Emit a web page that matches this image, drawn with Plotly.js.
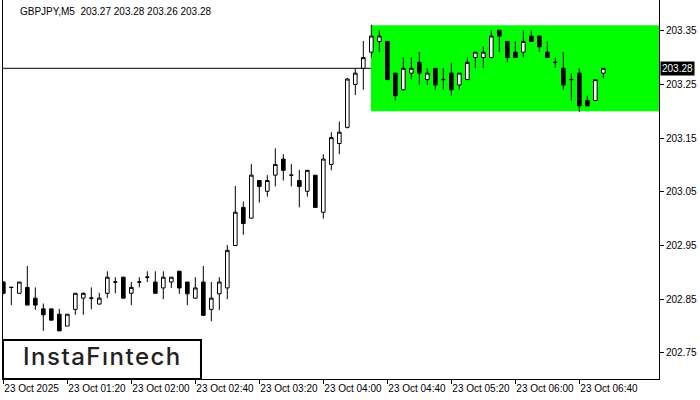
<!DOCTYPE html>
<html>
<head>
<meta charset="utf-8">
<script src="https://cdn.plot.ly/plotly-3.0.1.min.js"></script>
<style>html,body{margin:0;padding:0;background:#fff;}#chart{width:700px;height:400px;}</style>
</head>
<body>
<div id="chart"></div>
<script>
// GBPJPY M5, 23 Oct 2025, 76 bars from 00:40 to 06:55
const openP  = [202.882,202.872,202.861,202.872,202.852,202.832,202.832,202.822,202.800,202.831,
                202.852,202.852,202.841,202.861,202.882,202.891,202.861,202.882,202.891,202.882,
                202.871,202.882,202.902,202.882,202.852,202.882,202.831,202.860,202.871,202.950,
                203.021,203.001,203.071,203.051,203.081,203.111,203.081,203.071,203.051,203.081,
                203.012,203.101,203.140,203.170,203.250,203.280,203.310,203.330,203.330,203.271,
                203.240,203.271,203.291,203.259,203.280,203.259,203.271,203.249,203.259,203.300,
                203.300,203.300,203.351,203.330,203.310,203.310,203.340,203.340,203.310,203.291,
                203.280,203.259,203.271,203.220,203.220,203.271];
const highP  = [202.884,202.873,202.882,202.912,202.872,202.842,202.832,202.832,202.822,202.861,
                202.863,202.872,202.862,202.902,202.891,202.892,202.882,202.891,202.902,202.902,
                202.902,202.891,202.903,202.882,202.891,202.912,202.882,202.891,202.951,203.061,
                203.032,203.102,203.072,203.081,203.131,203.120,203.102,203.091,203.091,203.081,
                203.120,203.161,203.181,203.262,203.280,203.331,203.361,203.351,203.331,203.271,
                203.300,203.300,203.310,203.280,203.280,203.280,203.291,203.271,203.300,203.310,
                203.321,203.351,203.351,203.331,203.330,203.351,203.351,203.340,203.330,203.300,
                203.310,203.271,203.280,203.229,203.259,203.280];
const lowP   = [202.859,202.839,202.861,202.839,202.830,202.791,202.811,202.791,202.800,202.821,
                202.821,202.831,202.840,202.852,202.861,202.851,202.839,202.872,202.882,202.861,
                202.850,202.871,202.860,202.839,202.851,202.819,202.809,202.830,202.850,202.950,
                202.970,203.000,203.030,203.041,203.060,203.071,203.060,203.021,203.041,203.021,
                203.000,203.090,203.120,203.168,203.230,203.240,203.300,203.310,203.258,203.220,
                203.240,203.259,203.249,203.249,203.240,203.240,203.229,203.240,203.259,203.280,
                203.280,203.300,203.310,203.291,203.300,203.300,203.330,203.310,203.300,203.281,
                203.240,203.220,203.199,203.210,203.220,203.261];
const closeP = [202.861,202.872,202.882,202.839,202.839,202.821,202.811,202.791,202.822,202.861,
                202.861,202.852,202.852,202.891,202.882,202.852,202.872,202.882,202.891,202.861,
                202.891,202.891,202.871,202.860,202.871,202.820,202.852,202.882,202.941,203.012,
                202.991,203.081,203.060,203.071,203.101,203.090,203.081,203.060,203.090,203.021,
                203.111,203.151,203.161,203.260,203.271,203.300,203.340,203.340,203.259,203.229,
                203.280,203.280,203.271,203.271,203.249,203.259,203.240,203.271,203.291,203.310,
                203.310,203.340,203.340,203.300,203.300,203.330,203.330,203.320,203.300,203.291,
                203.249,203.259,203.210,203.210,203.259,203.280];

const xTickIdx    = [0, 8, 16, 24, 32, 40, 48, 56, 64, 72];
const xTickLabels = ["23 Oct 2025","23 Oct 01:20","23 Oct 02:00","23 Oct 02:40","23 Oct 03:20",
                     "23 Oct 04:00","23 Oct 04:40","23 Oct 05:20","23 Oct 06:00","23 Oct 06:40"];
const yTickVals   = [202.75, 202.85, 202.95, 203.05, 203.15, 203.25, 203.35];
const yTickLabels = ["202.75","202.85","202.95","203.05","203.15","203.25","203.35"];

const headerText = "GBPJPY,M5  203.27 203.28 203.26 203.28";
const bidPrice = 203.28;
const rectStartIdx = 46;
const rectTop = 203.36;
const rectBottom = 203.20;

const barIdx = openP.map((_, i) => i);
const xRange = [-0.04, 81.96];
const yRange = [202.7014, 203.4072];

const FONT = "Liberation Sans, Arial, sans-serif";

const trace = {
  type: 'candlestick',
  x: barIdx, open: openP, high: highP, low: lowP, close: closeP,
  increasing: {line: {color: '#000', width: 1}, fillcolor: '#fff'},
  decreasing: {line: {color: '#000', width: 1}, fillcolor: '#000'},
  whiskerwidth: 0,
  hoverinfo: 'skip',
  showlegend: false
};

const layout = {
  width: 700, height: 400,
  margin: {l: 3, r: 41, t: 0, b: 21},
  paper_bgcolor: '#fff', plot_bgcolor: '#fff',
  showlegend: false,
  boxgap: 0.35,
  font: {family: FONT, size: 10, color: '#000'},
  xaxis: {
    range: xRange, showgrid: false, zeroline: false,
    tickmode: 'array', tickvals: xTickIdx, ticktext: xTickLabels,
    ticks: 'outside', ticklen: 4, tickcolor: '#000', tickwidth: 1,
    ticklabelposition: 'outside right', tickangle: 0,
    tickfont: {family: FONT, size: 10, color: '#000'},
    showline: true, linecolor: '#000', linewidth: 1, mirror: false,
    rangeslider: {visible: false}, fixedrange: true
  },
  yaxis: {
    side: 'right', range: yRange, showgrid: false, zeroline: false,
    tickmode: 'array', tickvals: yTickVals, ticktext: yTickLabels,
    ticks: 'outside', ticklen: 4, tickcolor: '#000', tickwidth: 1,
    tickfont: {family: FONT, size: 10, color: '#000'},
    showline: true, linecolor: '#000', linewidth: 1, mirror: true,
    fixedrange: true
  },
  shapes: [
    {type: 'rect', xref: 'x', yref: 'y', x0: rectStartIdx - 0.04, x1: xRange[1], y0: rectBottom, y1: rectTop,
     fillcolor: '#00ff00', line: {width: 0}, layer: 'below'},
    {type: 'line', xref: 'paper', yref: 'y', x0: 0, x1: 1, y0: bidPrice, y1: bidPrice,
     line: {color: '#000', width: 1}, layer: 'below'},
    {type: 'rect', xref: 'paper', yref: 'paper', x0: 0, x1: 0.3018, y0: 0, y1: 0.1029,
     fillcolor: '#fff', line: {color: '#000', width: 2}, layer: 'above'}
  ],
  annotations: [
    {xref: 'paper', yref: 'paper', x: 0.0229, y: 1, xanchor: 'left', yanchor: 'top', yshift: -4,
     text: headerText, showarrow: false, font: {family: FONT, size: 10, color: '#000'}},
    {xref: 'paper', yref: 'y', x: 1, y: bidPrice, xanchor: 'left', yanchor: 'middle', xshift: 1,
     text: bidPrice.toFixed(2), showarrow: false, bgcolor: '#000', borderpad: 1,
     font: {family: FONT, size: 10, color: '#fff'}},
    {xref: 'paper', yref: 'paper', x: 0.1509, y: 0.0594, xanchor: 'center', yanchor: 'middle', xshift: 1,
     text: 'InstaFıntech', showarrow: false,
     font: {family: 'Inter, Lato, sans-serif', size: 24, weight: 500, color: '#222'}}
  ]
};

Plotly.newPlot('chart', [trace], layout, {staticPlot: true, displayModeBar: false}).then(gd => {
  const anns = gd.querySelectorAll('.annotation-text');
  anns.forEach(t => {
    if (t.textContent === 'InstaFıntech') t.style.letterSpacing = '1.5px';
  });
});
</script>
</body>
</html>
